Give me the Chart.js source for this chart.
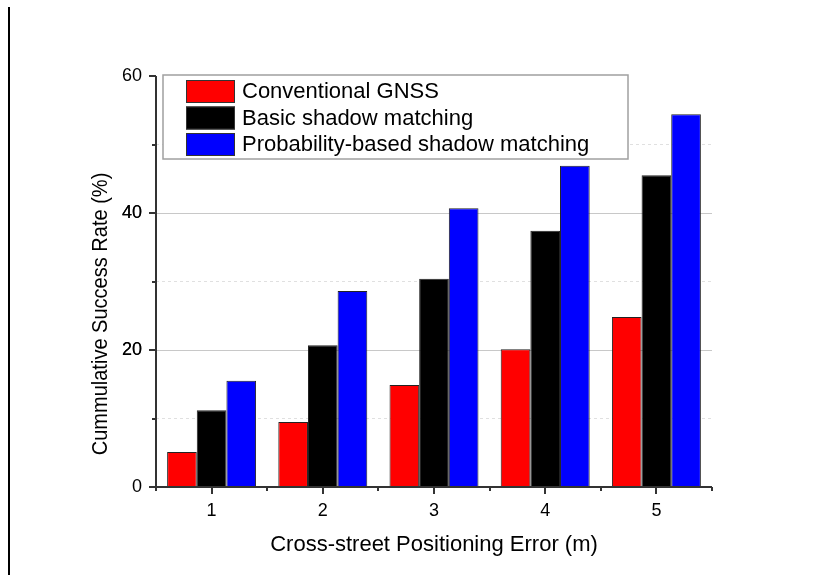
<!DOCTYPE html>
<html>
<head>
<meta charset="utf-8">
<script src="https://cdn.jsdelivr.net/npm/chart.js@4"></script>
<style>
    html, body { margin: 0; padding: 0; background: #fff; }
    #wrap { width: 815px; height: 575px; }
</style>
</head>
<body>
<div id="wrap"><canvas id="chart"></canvas></div>
<script>
const categories = ['1', '2', '3', '4', '5'];
const conventionalGnss = [5.1, 9.5, 14.9, 20.1, 24.8];
const basicShadow = [11.2, 20.7, 30.4, 37.4, 45.5];
const probShadow = [15.5, 28.6, 40.7, 46.9, 54.4];
const yTicks = [0, 20, 40, 60];
const yTitle = 'Cummulative Success Rate (%)';
const xTitle = 'Cross-street Positioning Error (m)';

const axisColor = '#333333';
const font = "'Liberation Sans', Arial, sans-serif";

// page rule on the left, ticks, y title and the boxed legend
const extras = {
    id: 'extras',
    beforeDraw(chart) {
        const c = chart.ctx;
        c.save();
        c.strokeStyle = '#000';
        c.lineWidth = 2;
        c.beginPath();
        c.moveTo(9, 7);
        c.lineTo(9, 575);
        c.stroke();
        c.restore();
    },
    afterDraw(chart) {
        const c = chart.ctx;
        const x = chart.scales.x, y = chart.scales.y;
        const area = chart.chartArea;
        c.save();
        c.strokeStyle = axisColor;
        c.lineWidth = 2;
        c.beginPath();
        // y ticks: majors every 20, minors in between
        for (let v = 0; v <= 60; v += 10) {
            const py = Math.round(y.getPixelForValue(v));
            const len = v % 20 === 0 ? 7 : 4;
            c.moveTo(area.left, py);
            c.lineTo(area.left - len, py);
        }
        // x ticks: majors at categories, minors at boundaries
        categories.forEach((_, i) => {
            const px = Math.round(x.getPixelForValue(i));
            c.moveTo(px, area.bottom);
            c.lineTo(px, area.bottom + 7);
        });
        for (let i = 0; i <= categories.length; i++) {
            const px = Math.round(x.getPixelForValue(i - 0.5));
            c.moveTo(px, area.bottom);
            c.lineTo(px, area.bottom + 4);
        }
        // axis lines
        c.moveTo(area.left, area.top);
        c.lineTo(area.left, area.bottom);
        c.moveTo(area.left - 1, area.bottom);
        c.lineTo(area.right, area.bottom);
        c.stroke();

        // y title, sits a bit low and looks squeezed in the original
        c.save();
        c.translate(101, 314);
        c.rotate(-Math.PI / 2);
        c.scale(0.91, 1);
        c.font = '22px ' + font;
        c.fillStyle = '#000';
        c.textAlign = 'center';
        c.textBaseline = 'middle';
        c.fillText(yTitle, 0, 0);
        c.restore();

        // legend box
        const bx = 163, by = 75, bw = 465, bh = 84;
        c.fillStyle = '#fff';
        c.fillRect(bx, by, bw, bh);
        c.strokeStyle = '#a0a0a0';
        c.lineWidth = 1.5;
        c.strokeRect(bx, by, bw, bh);
        c.font = '22px ' + font;
        c.textBaseline = 'middle';
        chart.data.datasets.forEach((ds, i) => {
            const sy = by + 5 + i * 26.5;
            c.fillStyle = ds.backgroundColor;
            c.fillRect(186, sy, 49, 23);
            c.strokeStyle = '#333';
            c.lineWidth = 1;
            c.strokeRect(186.5, sy + 0.5, 48, 22);
            c.fillStyle = '#000';
            c.fillText(ds.label, 242, sy + 12);
        });
        c.restore();
    }
};

new Chart(document.getElementById('chart'), {
    type: 'bar',
    data: {
        labels: categories,
        datasets: [
            { label: 'Conventional GNSS', data: conventionalGnss, backgroundColor: '#ff0000' },
            { label: 'Basic shadow matching', data: basicShadow, backgroundColor: '#000000' },
            { label: 'Probability-based shadow matching', data: probShadow, backgroundColor: '#0000ff' }
        ]
    },
    options: {
        responsive: true,
        maintainAspectRatio: false,
        animation: false,
        layout: { padding: { left: 0, right: 103, top: 76, bottom: 0 } },
        datasets: {
            bar: {
                categoryPercentage: 0.8,
                barPercentage: 1.0,
                borderColor: '#222',
                borderWidth: 1,
                borderSkipped: 'bottom'
            }
        },
        plugins: {
            legend: { display: false },
            tooltip: { enabled: false }
        },
        scales: {
            x: {
                grid: { display: false, drawTicks: false },
                border: { display: false },
                ticks: {
                    color: '#000',
                    font: { family: font, size: 18 },
                    padding: 13,
                    maxRotation: 0
                },
                title: {
                    display: true,
                    text: xTitle,
                    color: '#000',
                    font: { family: font, size: 22 },
                    padding: { top: 0, bottom: 17 }
                },
                afterFit(scale) { scale.height = 88; }
            },
            y: {
                min: 0,
                max: 60,
                afterBuildTicks(scale) {
                    scale.ticks = [];
                    for (let v = 10; v <= 50; v += 10) scale.ticks.push({ value: v });
                    yTicks.forEach(v => scale.ticks.push({ value: v, label: String(v) }));
                    scale.ticks.sort((a, b) => a.value - b.value);
                },
                grid: {
                    drawTicks: false,
                    color: ctx => {
                        const v = ctx.tick ? ctx.tick.value : 0;
                        if (v === 0 || v === 60) return 'rgba(0,0,0,0)';
                        return v % 20 === 0 ? '#c8c8c8' : '#e0e0e0';
                    },
                    lineWidth: 1
                },
                border: {
                    display: false,
                    dash: ctx => (ctx.tick && ctx.tick.value % 20 !== 0) ? [3, 3] : []
                },
                ticks: {
                    color: '#000',
                    font: { family: font, size: 18 },
                    padding: 14,
                    callback: v => (v % 20 === 0 ? String(v) : '')
                },
                title: { display: false },
                afterFit(scale) { scale.width = 156; }
            }
        }
    },
    plugins: [extras]
});
</script>
</body>
</html>
